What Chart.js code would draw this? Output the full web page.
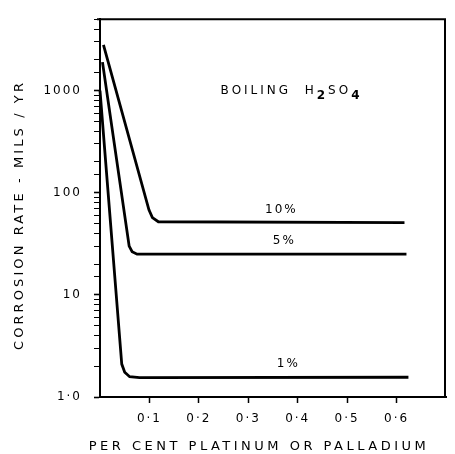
<!DOCTYPE html>
<html>
<head>
<meta charset="utf-8">
<script src="https://cdn.jsdelivr.net/npm/chart.js@4.4.1/dist/chart.umd.min.js"></script>
<style>
  html, body { margin: 0; padding: 0; background: #fff; }
</style>
</head>
<body>
<canvas id="chart" width="455" height="454"></canvas>
<script>
// per cent platinum or palladium (x) vs corrosion rate in mils/yr (y)
const seriesNames = ['10%', '5%', '1%'];
const acid10X = [0.007, 0.099, 0.106, 0.118, 0.616];
const acid10Y = [2800, 68, 57, 52, 51];
const acid5X = [0.005, 0.059, 0.065, 0.075, 0.62];
const acid5Y = [1900, 30, 26.5, 25, 25];
const acid1X = [0.0, 0.044, 0.05, 0.06, 0.08, 0.624];
const acid1Y = [1000, 2.1, 1.75, 1.58, 1.55, 1.56];

const xTickValues = [0.1, 0.2, 0.3, 0.4, 0.5, 0.6];
const xTickLabels = ['0·1', '0·2', '0·3', '0·4', '0·5', '0·6'];
const yTickValues = [1, 10, 100, 1000];
const yTickLabels = ['1·0', '10', '100', '1000'];

const xTitle = 'PER CENT PLATINUM OR PALLADIUM';
const yTitle = 'CORROSION RATE - MILS / YR';

const FONT = 'DejaVu Sans';

function toPoints(xs, ys) {
  return xs.map((x, i) => ({ x: x, y: ys[i] }));
}

function xLabelFor(v) {
  const i = xTickValues.findIndex(t => Math.abs(t - v) < 1e-6);
  return i < 0 ? '' : xTickLabels[i];
}
function yLabelFor(v) {
  const i = yTickValues.findIndex(t => Math.abs(t - v) < 1e-6);
  return i < 0 ? '' : yTickLabels[i];
}

// frame + annotation text, placed with the chart's own scales
const paperPlugin = {
  id: 'paper',
  beforeDraw(chart) {
    chart.ctx.letterSpacing = '2px';
  },
  afterDraw(chart) {
    const ctx = chart.ctx;
    const a = chart.chartArea;
    const xs = chart.scales.x;
    const ys = chart.scales.y;
    ctx.save();
    ctx.strokeStyle = '#000';
    ctx.lineWidth = 2;
    ctx.beginPath();
    ctx.moveTo(a.left - 3, a.top);
    ctx.lineTo(a.right - 1, a.top);
    ctx.lineTo(a.right - 1, a.bottom);
    ctx.stroke();

    ctx.fillStyle = '#000';
    ctx.textBaseline = 'middle';

    // axis titles
    ctx.font = '13px "' + FONT + '"';
    ctx.letterSpacing = '3.5px';
    ctx.textAlign = 'center';
    ctx.fillText(xTitle, 259, 447);
    ctx.save();
    ctx.letterSpacing = '3.1px';
    ctx.translate(20, 215);
    ctx.rotate(-Math.PI / 2);
    ctx.fillText(yTitle, 0, 0);
    ctx.restore();

    // BOILING H2SO4
    ctx.font = '12px "' + FONT + '"';
    ctx.letterSpacing = '3px';
    ctx.textAlign = 'left';
    let px = xs.getPixelForValue(0.244);
    const py = ys.getPixelForValue(1000);
    const parts = [['BOILING  H', 0], ['2', 5], ['SO', 0], ['4', 5]];
    parts.forEach(p => {
      ctx.font = (p[1] ? 'bold ' : '') + '12px "' + FONT + '"';
      ctx.fillText(p[0], px, py + p[1]);
      px += ctx.measureText(p[0]).width;
    });

    // concentration labels above each flat line
    ctx.font = '12px "' + FONT + '"';
    ctx.letterSpacing = '2px';
    const flats = [acid10Y[acid10Y.length - 1], acid5Y[acid5Y.length - 1], acid1Y[acid1Y.length - 1]];
    const labelX = [0.367, 0.373, 0.381];
    ctx.textAlign = 'center';
    seriesNames.forEach((name, i) => {
      ctx.fillText(name, xs.getPixelForValue(labelX[i]), ys.getPixelForValue(flats[i]) - 13);
    });
    ctx.restore();
  }
};

const lineStyle = {
  borderColor: '#000',
  borderWidth: 2.8,
  pointRadius: 0,
  tension: 0,
  fill: false,
  clip: false
};

new Chart(document.getElementById('chart'), {
  type: 'line',
  data: {
    datasets: [
      Object.assign({ label: seriesNames[0], data: toPoints(acid10X, acid10Y) }, lineStyle),
      Object.assign({ label: seriesNames[1], data: toPoints(acid5X, acid5Y) }, lineStyle),
      Object.assign({ label: seriesNames[2], data: toPoints(acid1X, acid1Y) }, lineStyle)
    ]
  },
  options: {
    responsive: false,
    animation: false,
    devicePixelRatio: 1,
    layout: { padding: { top: 17, right: 2, left: 0, bottom: 0 } },
    plugins: { legend: { display: false }, tooltip: { enabled: false } },
    scales: {
      x: {
        type: 'linear',
        min: 0,
        max: 0.7,
        afterFit(s) { s.height = 57; },
        border: { display: true, color: '#000', width: 2 },
        grid: {
          drawOnChartArea: false,
          drawTicks: true,
          tickLength: 6,
          tickWidth: 1.5,
          tickColor: c => xLabelFor(c.tick.value) ? '#000' : 'rgba(0,0,0,0)'
        },
        ticks: {
          stepSize: 0.1,
          autoSkip: false,
          maxRotation: 0,
          color: '#000',
          padding: 9,
          font: { family: FONT, size: 12 },
          callback: v => xLabelFor(v)
        }
      },
      y: {
        type: 'logarithmic',
        min: 1,
        max: 5000,
        afterFit(s) { s.width = 100; },
        border: { display: true, color: '#000', width: 2 },
        grid: {
          drawOnChartArea: false,
          drawTicks: true,
          tickLength: 6,
          tickColor: '#000',
          tickWidth: c => yLabelFor(c.tick.value) ? 1.6 : 1
        },
        ticks: {
          autoSkip: false,
          color: '#000',
          padding: 12,
          font: { family: FONT, size: 12 },
          callback: v => yLabelFor(v)
        }
      }
    }
  },
  plugins: [paperPlugin]
});
</script>
</body>
</html>
